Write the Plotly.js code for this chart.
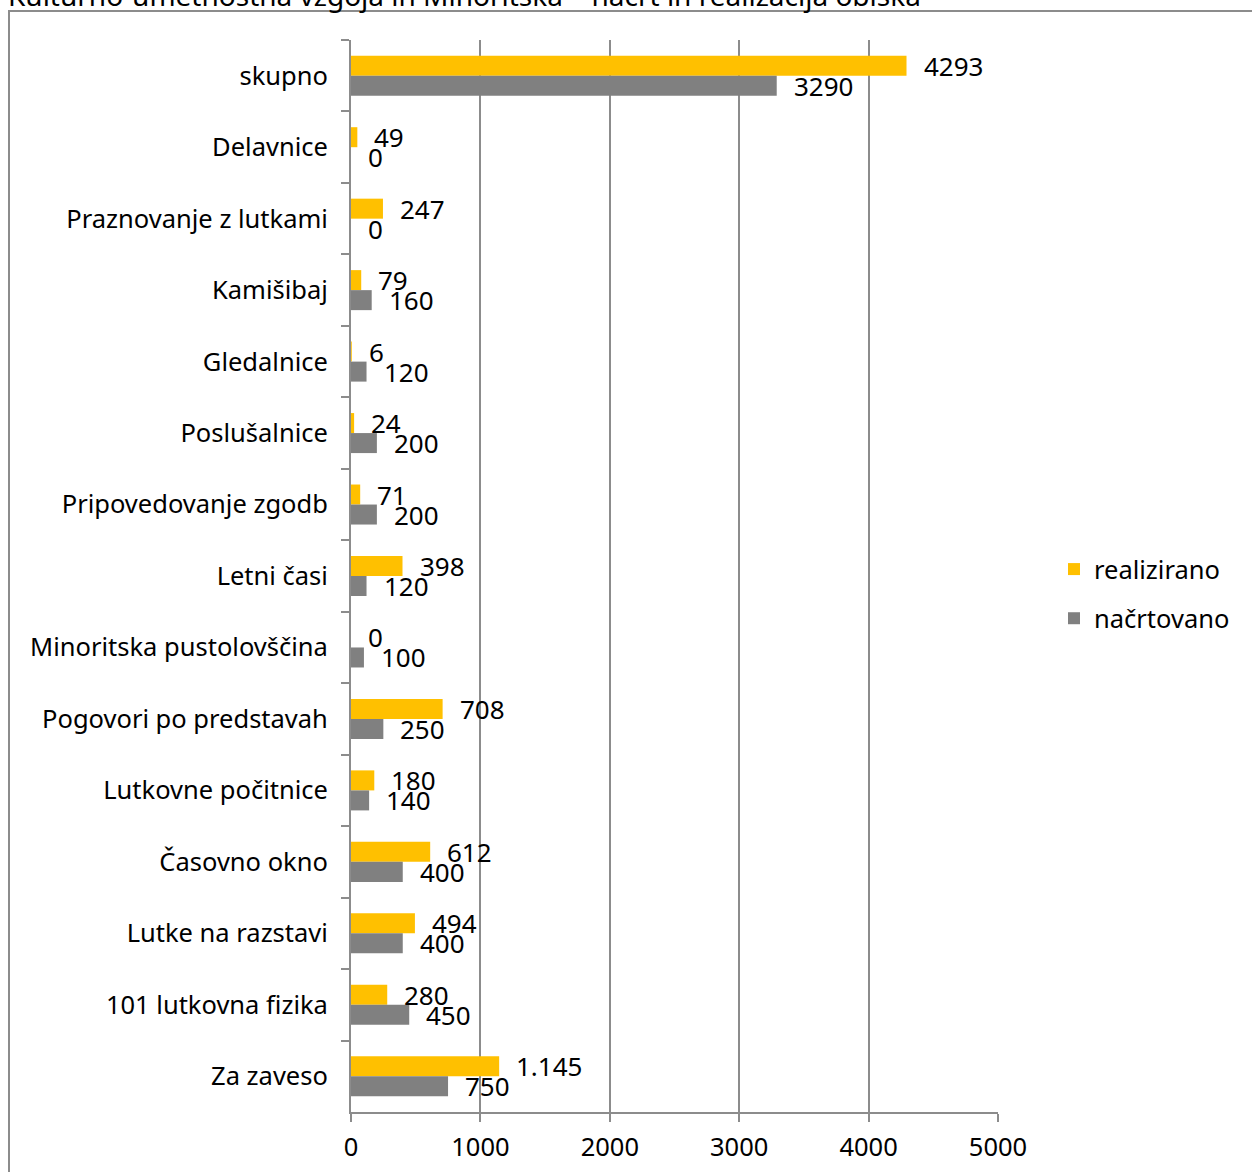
<!DOCTYPE html>
<html>
<head>
<meta charset="utf-8">
<script src="https://cdn.plot.ly/plotly-3.0.1.min.js"></script>
<style>
  html, body { margin: 0; padding: 0; background: #fff; }
  #wrap { position: relative; width: 1252px; height: 1172px; overflow: hidden; }
  #frame { position: absolute; left: 8px; top: 10px; width: 1300px; height: 1300px;
           border: 2px solid #8c8c8c; box-sizing: border-box; }
  #chart { position: absolute; left: 0; top: 0; width: 1252px; height: 1172px; }
</style>
</head>
<body>
<div id="wrap">
  <div id="frame"></div>
  <div id="chart"></div>
</div>
<script>
const categories = ["skupno", "Delavnice", "Praznovanje z lutkami", "Kamišibaj", "Gledalnice",
  "Poslušalnice", "Pripovedovanje zgodb", "Letni časi", "Minoritska pustolovščina",
  "Pogovori po predstavah", "Lutkovne počitnice", "Časovno okno", "Lutke na razstavi",
  "101 lutkovna fizika", "Za zaveso"];
const realizirano = [4293, 49, 247, 79, 6, 24, 71, 398, 0, 708, 180, 612, 494, 280, 1145];
const realiziranoLabels = ["4293", "49", "247", "79", "6", "24", "71", "398", "0", "708", "180", "612", "494", "280", "1.145"];
const nacrtovano = [3290, 0, 0, 160, 120, 200, 200, 120, 100, 250, 140, 400, 400, 450, 750];
const nacrtovanoLabels = nacrtovano.map(String);
const xTicks = [0, 1000, 2000, 3000, 4000, 5000];
const titleText = "Kulturno-umetnostna vzgoja in Minoritska – načrt in realizacija obiska";

const FONT = "'Noto Sans', 'Open Sans', sans-serif";
const FS = 25.5;
const FN = 26;
const W = 1252, H = 1172;

const traces = [
  { type: "bar", orientation: "h", name: "realizirano", y: categories, x: realizirano,
    marker: { color: "#FFC000" }, legendgroup: "a", hoverinfo: "skip" },
  { type: "bar", orientation: "h", name: "načrtovano", y: categories, x: nacrtovano,
    marker: { color: "#808080" }, legendgroup: "b", hoverinfo: "skip" }
];

const bargap = 0.44;
const half = (1 - bargap) / 4;
const annotations = [];
categories.forEach((c, i) => {
  annotations.push({ x: realizirano[i], y: i - half, xref: "x", yref: "y", text: realiziranoLabels[i],
    showarrow: false, xanchor: "left", yanchor: "middle", xshift: 15, font: { family: FONT, size: FN, color: "#000" } });
  annotations.push({ x: nacrtovano[i], y: i + half, xref: "x", yref: "y", text: nacrtovanoLabels[i],
    showarrow: false, xanchor: "left", yanchor: "middle", xshift: 15, font: { family: FONT, size: FN, color: "#000" } });
});

const layout = {
  width: W, height: H,
  margin: { l: 351, r: W - 998, t: 40, b: H - 1112, pad: 0 },
  paper_bgcolor: "rgba(0,0,0,0)", plot_bgcolor: "rgba(0,0,0,0)",
  font: { family: FONT, size: FS, color: "#000" },
  title: { text: titleText, x: 8 / W, xanchor: "left", xref: "container", yref: "container",
           y: 1 - 6 / H, yanchor: "bottom", font: { family: FONT, size: 28, color: "#000" } },
  barmode: "group", bargap: bargap, bargroupgap: 0,
  showlegend: true,
  legend: { x: (1054 - 351) / 647, xanchor: "left", y: (1112 - 594) / 1072, yanchor: "middle",
            traceorder: "grouped", tracegroupgap: 13, font: { family: FONT, size: FS, color: "#000" },
            bgcolor: "rgba(0,0,0,0)", itemwidth: 30 },
  xaxis: { range: [0, 5000], tickvals: xTicks, ticktext: xTicks.map(String), showgrid: true,
           gridcolor: "#8c8c8c", gridwidth: 2, zeroline: false, showline: true, linecolor: "#8c8c8c",
           linewidth: 2, ticks: "outside", ticklen: 8, tickwidth: 2, tickcolor: "#8c8c8c",
           ticklabelstandoff: 3, fixedrange: true, mirror: false },
  yaxis: { type: "category", autorange: "reversed", showgrid: false, zeroline: false, showline: true,
           linecolor: "#8c8c8c", linewidth: 2, ticks: "outside", tickson: "boundaries", ticklen: 8,
           tickwidth: 2, tickcolor: "#8c8c8c", ticklabelstandoff: 16, fixedrange: true },
  annotations: annotations
};

Plotly.newPlot("chart", traces, layout, { staticPlot: true, displayModeBar: false });
</script>
</body>
</html>
